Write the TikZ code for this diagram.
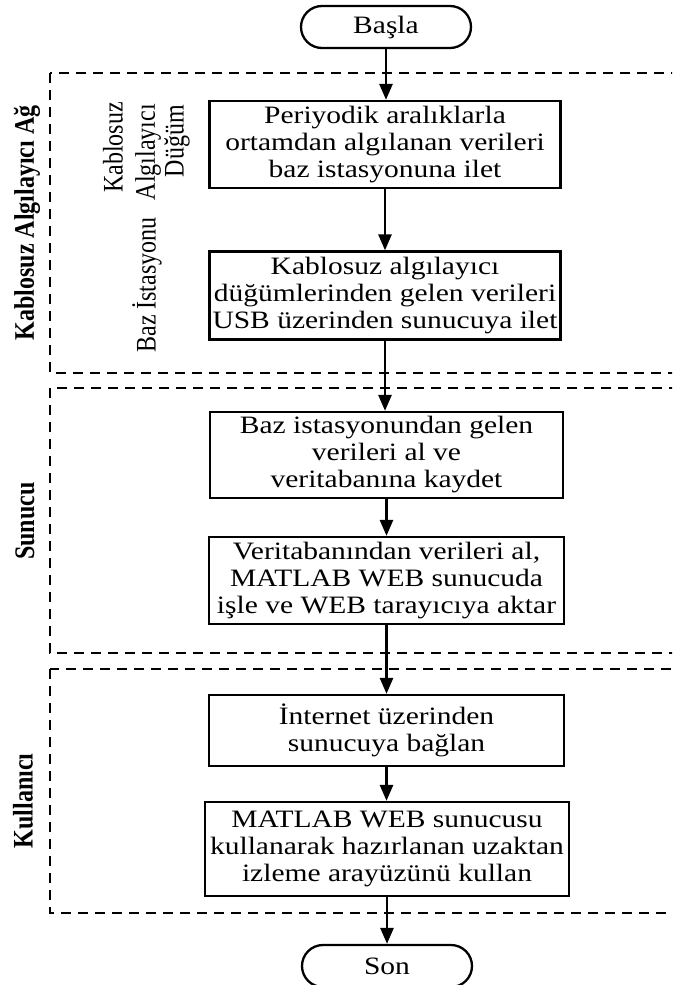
\documentclass[tikz,border=0pt]{standalone}
\usepackage{fontspec}
\setmainfont[FakeStretch=1.18]{Liberation Serif}
\newfontfamily\sidefont{Liberation Serif}
\usetikzlibrary{arrows.meta,shapes.misc}
\newcommand{\crossstretch}[1]{\scalebox{1}[1.18]{#1}}
\begin{document}
\begin{tikzpicture}[x=1pt,y=-1pt,
  procbox/.style={draw, line width=2.3pt, align=center, inner sep=1pt, font=\fontsize{25}{27}\selectfont},
  term/.style={draw, rounded rectangle, line width=2.3pt, minimum width=172pt, minimum height=42pt, inner sep=1pt, font=\fontsize{25}{27}\selectfont},
  region/.style={draw, line width=2.2pt, dash pattern=on 10pt off 7pt},
  flow/.style={line width=2.7pt, -{Triangle[length=16pt,width=13pt]}},
  sidebold/.style={rotate=90, inner sep=0pt, font=\sidefont\bfseries\fontsize{24}{27}\selectfont},
  sidelabel/.style={rotate=90, inner sep=0pt, font=\sidefont\fontsize{24}{27}\selectfont}
]
\useasboundingbox (0,0) rectangle (672,985);
\clip (0,0) rectangle (672,985);
% regions
\draw[region] (50,73) rectangle (720,373);
\draw[region] (50,388) rectangle (720,653);
\draw[region] (50,669) rectangle (720,913);
% side labels
\node[sidebold] (lwsn) at (27,223) {\crossstretch{Kablosuz Algılayıcı Ağ}};
\node[sidebold] (lsrv) at (25,521) {\crossstretch{Sunucu}};
\node[sidebold] (lusr) at (23,801) {\crossstretch{Kullanıcı}};
\node[sidelabel, anchor=east] (lnode1) at (113,102) {\crossstretch{Kablosuz}};
\node[sidelabel, anchor=east] (lnode2) at (148,104) {\crossstretch{Algılayıcı}};
\node[sidelabel, anchor=east] (lnode3) at (177,105) {\crossstretch{Düğüm}};
\node[sidelabel] (lbase) at (147,285) {\crossstretch{Baz İstasyonu}};
% flow nodes
\node[term] (start) at (386,27) {Başla};
\node[procbox, minimum width=351pt, minimum height=87pt] (a) at (385,144.5) {Periyodik aralıklarla\\ortamdan algılanan verileri\\baz istasyonuna ilet};
\node[procbox, minimum width=351pt, minimum height=88pt] (b) at (385,295.5) {Kablosuz algılayıcı\\düğümlerinden gelen verileri\\USB üzerinden sunucuya ilet};
\node[procbox, minimum width=353pt, minimum height=86pt] (c) at (386.5,455) {Baz istasyonundan gelen\\verileri al ve\\veritabanına kaydet};
\node[procbox, minimum width=355pt, minimum height=87pt] (d) at (386.5,580.5) {Veritabanından verileri al,\\MATLAB WEB sunucuda\\işle ve WEB tarayıcıya aktar};
\node[procbox, minimum width=355pt, minimum height=71pt] (e) at (386.5,730.5) {İnternet üzerinden\\sunucuya bağlan};
\node[procbox, minimum width=364pt, minimum height=94pt] (f) at (387,849) {MATLAB WEB sunucusu\\kullanarak hazırlanan uzaktan\\izleme arayüzünü kullan};
\node[term] (stop) at (387,966) {Son};
% connectors
\draw[flow] (start.south) -- (start.south |- a.north);
\draw[flow] (a.south) -- (a.south |- b.north);
\draw[flow] (b.south) -- (b.south |- c.north);
\draw[flow] (c.south) -- (c.south |- d.north);
\draw[flow] (d.south) -- (d.south |- e.north);
\draw[flow] (e.south) -- (e.south |- f.north);
\draw[flow] (f.south) -- (f.south |- stop.north);
\end{tikzpicture}
\end{document}
